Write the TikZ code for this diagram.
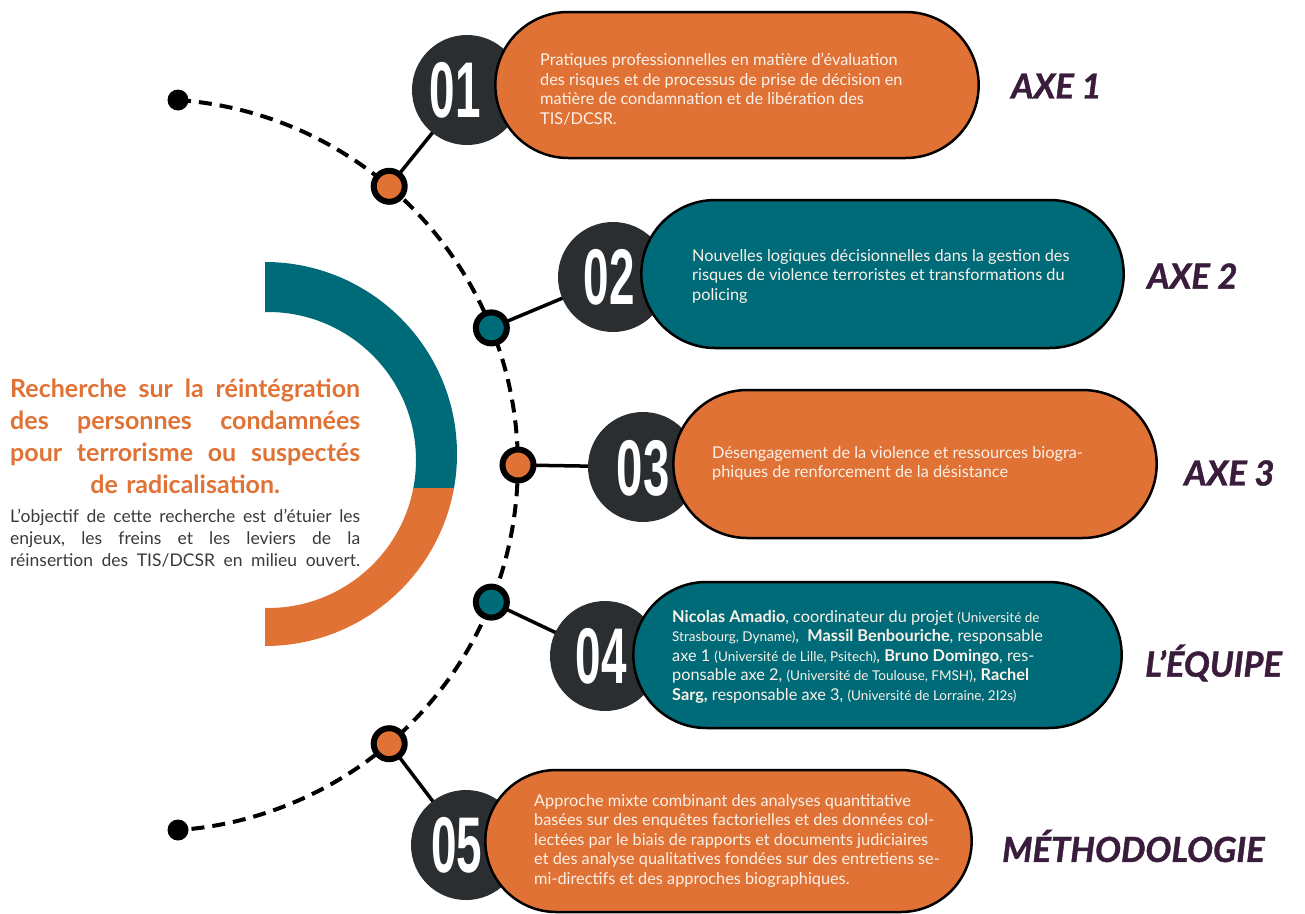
\documentclass[tikz,border=0pt]{standalone}
\usepackage{fontspec}
\setmainfont{Lato}
\newfontfamily\numfont{Liberation Sans}
\usetikzlibrary{shapes.misc}
\definecolor{orng}{HTML}{E07235}
\definecolor{tealc}{HTML}{006B78}
\definecolor{darkc}{HTML}{2B2E31}
\definecolor{purp}{HTML}{3A1D3C}
\definecolor{txtg}{HTML}{3A3A3A}
\definecolor{cream}{HTML}{FBF1E8}
\newcommand{\smallpar}[1]{{\fontsize{13.5}{19.5}\selectfont #1}}
\newcommand{\jline}[1]{\makebox[350pt][s]{#1}}
\tikzset{
  pillbox/.style={rounded rectangle, draw=black, line width=2.5pt},
  numfill/.style={fill=darkc},
  numc/.style={circle, minimum size=100pt, inner sep=0pt, text=white,
    font=\fontsize{79}{79}\numfont\bfseries},
  ringdot/.style={circle, draw=black, line width=6pt, minimum size=31pt, inner sep=0pt},
  enddot/.style={circle, fill=black, minimum size=21pt, inner sep=0pt},
  conn/.style={line width=3.5pt, black},
  dashline/.style={line width=4pt, black, dash pattern=on 13pt off 8pt},
  boxtext/.style={anchor=north west, inner sep=0pt, text=cream, align=left,
    font=\fontsize{16.3}{19.5}\selectfont},
  axelabel/.style={anchor=west, inner sep=0pt, text=purp,
    font=\fontsize{34.5}{36}\selectfont\bfseries\itshape\addfontfeature{FakeBold=1.2}},
}
\begin{document}
\begin{tikzpicture}[x=1pt,y=-1pt]
\useasboundingbox (0,0) rectangle (1305,913);
\fill[white] (0,0) rectangle (1305,913);
% half ring
\begin{scope}
  \clip (265,0) rectangle (700,488);
  \fill[tealc,even odd rule] (265,454) circle[radius=192] (268,460) circle[radius=148];
\end{scope}
\begin{scope}
  \clip (265,488) rectangle (700,913);
  \fill[orng,even odd rule] (265,454) circle[radius=192] (268,460) circle[radius=148];
\end{scope}
% left texts
\node[anchor=north west, inner sep=0pt, text width=350pt, text=orng,
  font=\fontsize{25}{32}\selectfont\bfseries] (title) at (10,379) {\noindent
\jline{Recherche\hfill sur\hfill la\hfill réintégration}\\
\jline{des\hfill personnes\hfill condamnées}\\
\jline{pour\hfill terrorisme\hfill ou\hfill suspectés}\\
\jline{\hfill de radicalisation.\hfill}};
\node[anchor=north west, inner sep=0pt, text width=350pt, text=txtg,
  font=\fontsize{17.5}{22}\selectfont] (desc) at (10,509) {\noindent
\jline{L’objectif\hfill de\hfill cette\hfill recherche\hfill est\hfill d’étuier\hfill les}\\
\jline{enjeux,\hfill les\hfill freins\hfill et\hfill les\hfill leviers\hfill de\hfill la}\\
\jline{réinsertion\hfill des\hfill TIS/DCSR\hfill en\hfill milieu\hfill ouvert.}};
% end dots and dashed arc
\node[enddot] (s) at (178,100) {};
\node[enddot] (e) at (178,830) {};
\draw[dashline] (s.center) arc[start angle=-85.9, end angle=85.9, radius=366];
% coloured dots positions
\coordinate (p1) at ([shift={(152,465)}]-49.6:366);
\coordinate (p2) at ([shift={(152,465)}]-22:366);
\coordinate (p3) at ([shift={(152,465)}]0:366);
\coordinate (p4) at ([shift={(152,465)}]22:366);
\coordinate (p5) at ([shift={(152,465)}]49.6:366);
% number circle centres
\coordinate (c1) at (467,90);
\coordinate (c2) at (613,277);
\coordinate (c3) at (643,467);
\coordinate (c4) at (605,656);
\coordinate (c5) at (466,845);
% connectors
\draw[conn] (p1) -- (c1);
\draw[conn] (p2) -- (c2);
\draw[conn] (p3) -- (c3);
\draw[conn] (p4) -- (c4);
\draw[conn] (p5) -- (c5);
% dark discs
\foreach \c in {c1,c2,c3,c4,c5} \fill[numfill] (\c) circle[radius=55];
% boxes (drawn over the right part of the discs)
\node[pillbox, fill=orng, minimum width=490pt, minimum height=146pt] (b1) at (737,85) {};
\node[pillbox, fill=tealc, minimum width=489pt, minimum height=148pt] (b2) at (882.5,274) {};
\node[pillbox, fill=orng, minimum width=490pt, minimum height=148pt] (b3) at (915,464) {};
\node[pillbox, fill=tealc, minimum width=495pt, minimum height=146pt] (b4) at (877.5,655) {};
\node[pillbox, fill=orng, minimum width=493pt, minimum height=142pt] (b5) at (728.5,841) {};
% numbers
\node[numc] (n1) at (455,90) {\scalebox{0.58}[1]{01}};
\node[numc] (n2) at (609,277) {\scalebox{0.58}[1]{02}};
\node[numc] (n3) at (643,468) {\scalebox{0.6}[1]{03}};
\node[numc] (n4) at (601,656) {\scalebox{0.58}[1]{04}};
\node[numc] (n5) at (457,845) {\scalebox{0.58}[1]{05}};
% dots
\node[ringdot, fill=orng] (d1) at (p1) {};
\node[ringdot, fill=tealc] (d2) at (p2) {};
\node[ringdot, fill=orng] (d3) at (p3) {};
\node[ringdot, fill=tealc] (d4) at (p4) {};
\node[ringdot, fill=orng] (d5) at (p5) {};
% box texts
\node[boxtext] (t1) at (540,53) {Pratiques professionnelles en matière d’évaluation\\
des risques et de processus de prise de décision en\\
matière de condamnation et de libération des\\
TIS/DCSR.};
\node[boxtext] (t2) at (692,249) {Nouvelles logiques décisionnelles dans la gestion des\\
risques de violence terroristes et transformations du\\
policing};
\node[boxtext] (t3) at (712,446) {Désengagement de la violence et ressources biogra-\\
phiques de renforcement de la désistance};
\node[boxtext] (t4) at (672,610) {\textbf{Nicolas Amadio}, coordinateur du projet \smallpar{(Université de}\\
\smallpar{Strasbourg, Dyname)}, \ \textbf{Massil Benbouriche}, responsable\\
axe 1 \smallpar{(Université de Lille, Psitech)}, \textbf{Bruno Domingo}, res-\\
ponsable axe 2, \smallpar{(Université de Toulouse, FMSH)}, \textbf{Rachel}\\
\textbf{Sarg,} responsable axe 3, \smallpar{(Université de Lorraine, 2I2s)}};
\node[boxtext] (t5) at (534,794) {Approche mixte combinant des analyses quantitative\\
basées sur des enquêtes factorielles et des données col-\\
lectées par le biais de rapports et documents judiciaires\\
et des analyse qualitatives fondées sur des entretiens se-\\
mi-directifs et des approches biographiques.};
% labels
\node[axelabel] (l1) at (1011,86) {AXE 1};
\node[axelabel] (l2) at (1147,276) {AXE 2};
\node[axelabel] (l3) at (1184,473) {AXE 3};
\node[axelabel] (l4) at (1145,663) {L’ÉQUIPE};
\node[axelabel] (l5) at (1002,846) {MÉTHODOLOGIE};
\end{tikzpicture}
\end{document}
